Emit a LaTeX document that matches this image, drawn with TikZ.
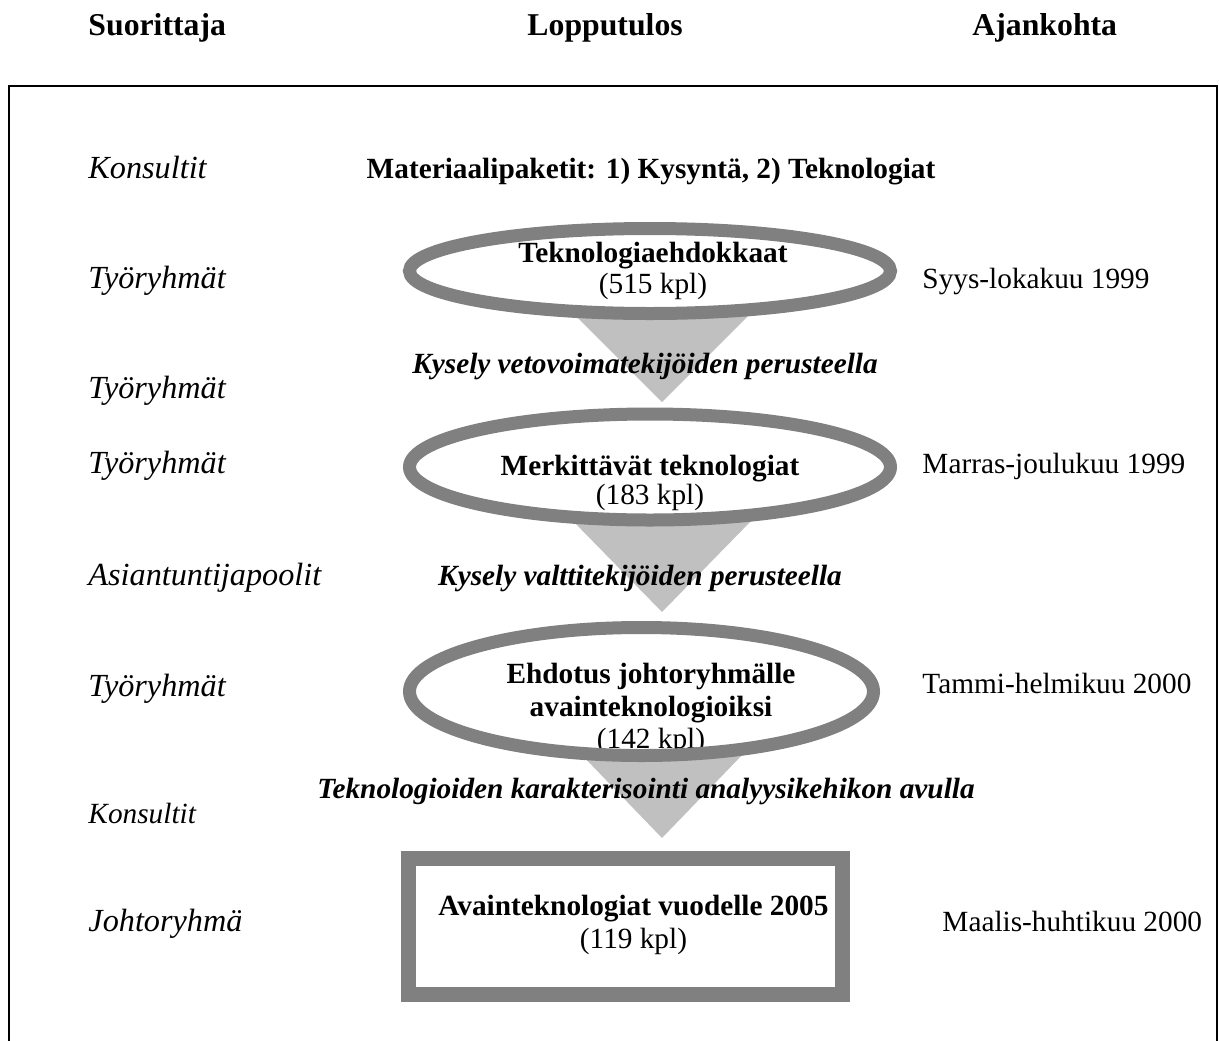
\documentclass[tikz,border=0pt]{standalone}
\usepackage{fontspec}
\setmainfont{Liberation Serif}
\usetikzlibrary{shapes.geometric}
\definecolor{stagegray}{RGB}{128,128,128}
\definecolor{funnelgray}{RGB}{192,192,192}
\newcommand\pxu{0.4096pt}
\begin{document}
\begin{tikzpicture}[x=0.4096pt,y=-0.4096pt,
  head/.style={inner sep=0pt,anchor=base west,font=\fontsize{13}{15}\selectfont\bfseries},
  who/.style={inner sep=0pt,anchor=base west,font=\fontsize{13.2}{15}\selectfont\itshape},
  when/.style={inner sep=0pt,anchor=base west,font=\fontsize{12}{14}\selectfont},
  result/.style={inner sep=0pt,anchor=base,font=\fontsize{12}{14}\selectfont\bfseries},
  count/.style={inner sep=0pt,anchor=base,font=\fontsize{12}{14}\selectfont},
  method/.style={inner sep=0pt,anchor=base,font=\fontsize{12}{14}\selectfont\bfseries\itshape},
  stage/.style={ellipse,draw=stagegray,fill=white,line width=13*\pxu,inner sep=0pt},
  stagefill/.style={ellipse,draw=none,fill=white,inner sep=0pt},
  stageline/.style={draw=stagegray,line width=13*\pxu},
  goalbox/.style={rectangle,draw=stagegray,fill=white,line width=15*\pxu,inner sep=0pt},
  funnel/.style={fill=funnelgray,draw=none},
]
\useasboundingbox (0,0) rectangle (1219,1041);

% column headings
\node[head] (hwho)  at (88,35)  {Suorittaja};
\node[head] (hres)  at (527,35) {Lopputulos};
\node[head] (hwhen) at (972,35) {Ajankohta};

% open frame
\draw[line width=2*\pxu] (9,1041) -- (9,86) -- (1217,86) -- (1217,1041);

% funnels between the stages
\fill[funnel] (570,310) -- (754,310) -- (662,402) -- cycle;
\fill[funnel] (570,518) -- (754,518) -- (662,612) -- cycle;
\fill[funnel] (579,752) -- (745,752) -- (662,838) -- cycle;

% stages
\node[stage,minimum width=481*\pxu,minimum height=85*\pxu]  (e1) at (650,271) {};
\node[stage,minimum width=481*\pxu,minimum height=106*\pxu] (e2) at (650,467) {};
\node[stagefill,minimum width=464*\pxu,minimum height=128*\pxu] (e3) at (641.5,691.5) {};
\node[goalbox,minimum width=434*\pxu,minimum height=136*\pxu] (goal) at (625.5,926.5) {};

% performers
\node[who] (w1) at (88,178.5) {Konsultit};
\node[who] (w2) at (88,288.5) {Työryhmät};
\node[who] (w3) at (88,398.5) {Työryhmät};
\node[who] (w4) at (88,473.5) {Työryhmät};
\node[who] (w5) at (88,585.5) {Asiantuntijapoolit};
\node[who] (w6) at (88,696.5) {Työryhmät};
\node[inner sep=0pt,anchor=base west,font=\fontsize{12}{14}\selectfont\itshape] (w7) at (88,823) {Konsultit};
\node[who] (w8) at (88,931.5) {Johtoryhmä};

% results
\node[result] (r0) at (651,178) {Materiaalipaketit: 1) Kysyntä, 2) Teknologiat};
\node[result] (r1) at (653,262) {Teknologiaehdokkaat};
\node[count]  (c1) at (653,293) {(515 kpl)};
\node[method] (m1) at (645,373) {Kysely vetovoimatekijöiden perusteella};
\node[result] (r2) at (650,475) {Merkittävät teknologiat};
\node[count]  (c2) at (650,504) {(183 kpl)};
\node[method] (m2) at (640,585) {Kysely valttitekijöiden perusteella};
\node[result] (r3a) at (651,683) {Ehdotus johtoryhmälle};
\node[result] (r3b) at (651,716) {avainteknologioiksi};
\node[count]  (c3) at (651,748) {(142 kpl)};
% the rim of the third stage lies over the lower edge of its count
\draw[stageline] (e3.center) ellipse [x radius=232*\pxu, y radius=64*\pxu];
\node[method] (m3) at (646,798) {Teknologioiden karakterisointi analyysikehikon avulla};
\node[result] (r4) at (633.5,915) {Avainteknologiat vuodelle 2005};
\node[count]  (c4) at (633.5,948) {(119 kpl)};

% timing
\node[when] (t1) at (922,288) {Syys-lokakuu 1999};
\node[when] (t2) at (922,473) {Marras-joulukuu 1999};
\node[when] (t3) at (922,693) {Tammi-helmikuu 2000};
\node[when] (t4) at (942,931) {Maalis-huhtikuu 2000};
\end{tikzpicture}
\end{document}
